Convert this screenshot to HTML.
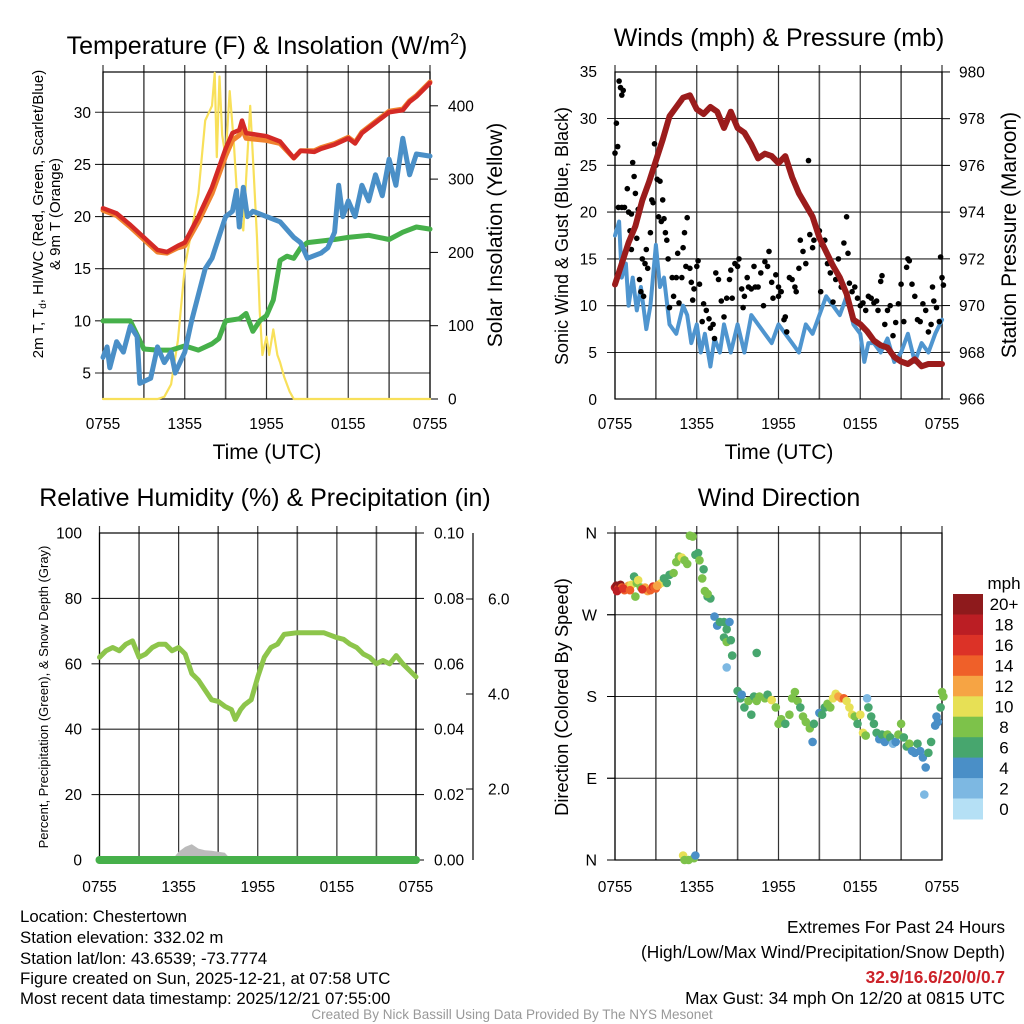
<!DOCTYPE html>
<html><head><meta charset="utf-8">
<style>
html,body{margin:0;padding:0;background:#fff;}
svg{display:block;font-family:"Liberation Sans",Arial,sans-serif;}
</style></head>
<body>
<svg id="fig" width="1024" height="1024" viewBox="0 0 1024 1024" xmlns="http://www.w3.org/2000/svg">
<rect width="1024" height="1024" fill="#fff"/>
<text x="267" y="54" font-size="25" text-anchor="middle">Temperature (F) &amp; Insolation (W/m<tspan font-size="16" dy="-10">2</tspan><tspan dy="10">)</tspan></text>
<text x="779" y="46" font-size="25" text-anchor="middle">Winds (mph) &amp; Pressure (mb)</text>
<text x="265" y="506" font-size="25" text-anchor="middle">Relative Humidity (%) &amp; Precipitation (in)</text>
<text x="779" y="506" font-size="25" text-anchor="middle">Wind Direction</text>
<text x="267" y="459" font-size="21" text-anchor="middle">Time (UTC)</text>
<text x="779" y="459" font-size="21" text-anchor="middle">Time (UTC)</text>
<text transform="translate(43,214) rotate(-90)" font-size="15" text-anchor="middle">2m T, T<tspan font-size="10" dy="3">d</tspan><tspan dy="-3">, HI/WC (Red, Green, Scarlet/Blue)</tspan></text>
<text transform="translate(60,214) rotate(-90)" font-size="15" text-anchor="middle">&amp; 9m T (Orange)</text>
<text transform="translate(502,235) rotate(-90)" font-size="21" text-anchor="middle">Solar Insolation (Yellow)</text>
<text transform="translate(568,236) rotate(-90)" font-size="18" text-anchor="middle">Sonic Wind &amp; Gust (Blue, Black)</text>
<text transform="translate(1016,235) rotate(-90)" font-size="21" text-anchor="middle">Station Pressure (Maroon)</text>
<text transform="translate(48,697) rotate(-90)" font-size="13" text-anchor="middle">Percent, Precipitation (Green), &amp; Snow Depth (Gray)</text>
<text transform="translate(568,697) rotate(-90)" font-size="18.3" text-anchor="middle">Direction (Colored By Speed)</text>
<g font-size="16.8">
<text x="20" y="922">Location: Chestertown</text>
<text x="20" y="943">Station elevation: 332.02 m</text>
<text x="20" y="964">Station lat/lon: 43.6539; -73.7774</text>
<text x="20" y="984">Figure created on Sun, 2025-12-21, at 07:58 UTC</text>
<text x="20" y="1004">Most recent data timestamp: 2025/12/21 07:55:00</text>
</g>
<g font-size="17.3" text-anchor="end">
<text x="1005" y="933">Extremes For Past 24 Hours</text>
<text x="1005" y="958">(High/Low/Max Wind/Precipitation/Snow Depth)</text>
<text x="1005" y="983" fill="#cc2229" font-weight="bold">32.9/16.6/20/0/0.7</text>
<text x="1005" y="1004">Max Gust: 34 mph On 12/20 at 0815 UTC</text>
</g>
<text x="512" y="1019" font-size="13.5" fill="#999" text-anchor="middle">Created By Nick Bassill Using Data Provided By The NYS Mesonet</text>
</svg>
<script>
// ---- data ----
const xTickLabels = ["0755","1355","1955","0155","0755"];
const tempTicks = [5,10,15,20,25,30];
const solarTicks = [0,100,200,300,400];
const windTicks = [0,5,10,15,20,25,30,35];
const presTicks = [966,968,970,972,974,976,978,980];
const rhTicks = [0,20,40,60,80,100];
const precipTicks = ["0.00","0.02","0.04","0.06","0.08","0.10"];
const snowTicks = ["2.0","4.0","6.0"];
const dirTicks = ["N","E","S","W","N"];
const speedBins = ["0","2","4","6","8","10","12","14","16","18","20+"];
const speedColors = ["#b5e0f5","#7db8e2","#4a8fc7","#47a66e","#7dc24a","#e7e055","#f6a444","#ef6029","#dc3227","#bb1e24","#8e1a1c"];

const tempHours = [0,1,2,3,4,4.7,5.5,6,7,8,9,9.5,10,10.2,10.5,12,13,14,14.5,15.5,16,17,18,18.5,19,20,21,22,22.5,23,24];
const tempRed   = [20.8,20.3,19.2,18,16.8,16.6,17.2,17.5,20,22.8,26.5,28,28.3,29.2,28,27.7,27.2,25.6,26.3,26.2,26.5,26.9,27.5,27,28,29,30,30.2,31,31.5,32.8];
const temp9m    = [20.6,20.1,19.0,17.8,16.6,16.5,17.0,17.2,19.5,22.2,25.8,27.3,27.8,28.5,27.5,27.3,27.0,25.6,26.3,26.3,26.6,27.0,27.6,27.1,28.1,29.1,30.1,30.3,31.1,31.6,32.9];
const dewHours = [0,1,2,3,4,5,6,7,8,8.5,9,10,10.5,11,11.5,12,12.5,13,13.5,14,14.5,15,17,18,19.5,21,22,23,24];
const dewGreen = [10,10,10,7.3,7.2,7.2,7.6,7.2,7.8,8.3,10,10.2,10.7,9,10,10.5,12,15.8,16.2,16,17,17.5,17.8,18,18.2,17.8,18.5,19,18.8];
const wcHours = [0,0.3,0.5,1,1.5,2,2.5,2.7,3.5,4,4.5,5,5.3,6,6.5,7,7.5,8,8.5,9,9.5,9.8,10,10.3,10.6,11,12,13,14,14.5,15,16,16.5,17,17.3,17.6,18,18.5,19,19.5,20,20.5,21,21.5,22,22.5,23,24];
const wcBlue  = [6.5,7.5,5.5,8,7,9.5,8.5,4,4.5,7.5,6,7,5,7,10,12.5,15,16,18,20,20.5,22.5,19,22.8,20,20.5,20,19.5,18,17.5,16,16.5,17,18.5,23,20,21.5,20,23,21.5,24,22,25.5,23,27.5,24,26,25.8];
const solarHours = [0,4,4.5,5,5.5,6,6.5,7,7.5,8,8.2,8.35,8.55,8.75,9,9.3,9.6,9.8,10,10.3,10.5,10.8,11,11.3,11.5,11.7,12,12.2,12.5,12.8,13,13.3,13.7,14,24];
const solarVals  = [0,0,3,20,80,180,230,280,380,400,445,330,440,360,330,420,350,290,250,230,300,400,330,220,120,60,85,60,95,60,50,30,10,0,0];

const windHours = [0,0.3,0.5,0.8,1,1.3,1.6,1.9,2.3,2.6,3,3.3,3.6,4,4.5,5,5.3,5.6,6,6.3,6.6,7,7.3,7.7,8,8.5,9,9.5,10,10.5,11,11.5,12,12.5,13,13.5,14,14.5,15,15.5,16,16.5,17,17.5,18,18.3,18.6,19,19.5,20,20.5,21,21.5,22,22.5,23,23.5,24];
const windSpeed = [17.5,19,13,14.5,10,13,9.5,12,7.5,10,16.5,12,13,8,7,10,9,6,8,5,7,3.5,6.5,5,8,5,8,5,9,8,7,6,8,7,6,5,8,7,9,11,10,9,11,8,7,4,6,6,5,6.5,4,5,7,4,6,5,7,8.5];
const presHours = [0,0.5,1,1.5,2,2.5,3,3.5,4,4.5,5,5.5,6,6.5,7,7.5,8,8.5,9,9.5,10,10.5,11,11.5,12,12.5,13,13.5,14,14.5,15,15.5,16,16.5,17,17.5,18,18.5,19,19.5,20,20.5,21,21.5,22,22.5,23,24];
const presVals  = [970.9,971.8,972.7,973.4,974.5,975.3,976.2,977.1,978.1,978.5,978.9,979.0,978.4,978.2,978.5,978.3,977.6,978.3,977.6,977.4,976.9,976.3,976.5,976.4,976.1,976.4,975.5,974.8,974.3,973.8,972.9,972.3,971.7,971.2,970.5,969.4,969.2,968.9,968.5,968.3,968.2,967.8,967.6,967.5,967.7,967.4,967.5,967.5];
const gustHours = [0,0.1,0.2,0.3,0.4,0.5,0.6,0.25,0.5,0.7,0.9,1.0,1.1,1.2,1.2,1.3,1.4,1.5,1.6,1.7,1.8,1.9,2.0,2.1,2.2,2.3,2.4,2.6,2.7,2.8,2.9,3.0,3.1,3.2,3.3,3.4,3.5,3.6,3.7,3.8,3.9,4.0,4.2,4.3,4.5,4.6,4.7,4.9,5.0,5.1,5.3,5.2,5.5,5.6,5.7,5.8,6.0,6.1,6.2,6.4,6.5,6.7,6.9,7.0,7.2,7.4,7.6,7.8,8.0,8.2,8.4,8.5,8.6,8.8,9.0,9.1,9.3,9.5,9.7,9.8,10,10.2,10.3,10.5,10.7,10.9,11.0,11.2,11.3,11.5,11.6,11.8,12,12.2,12.4,12.5,12.6,12.8,13.0,13.2,13.3,13.5,13.6,13.8,14,14.2,14.3,14.4,14.5,14.6,14.8,15,15.2,15.4,15.6,15.8,16,16.2,16.4,16.6,16.8,17.0,17.1,17.2,17.4,17.6,17.8,18,18.2,18.4,18.6,18.8,19,19.2,19.3,19.5,19.6,19.8,20.0,20.2,20.4,20.6,20.8,21,21.2,21.4,21.5,21.6,21.8,22,22.2,22.4,22.6,22.8,23,23.2,23.4,23.6,23.8,24,23.9,24.1,23.3,7.3,9.4,12.0,15.1,16.0];
const gustVals  = [26.3,29.5,27,34,33.3,32.5,33,20.5,20.5,20.5,22.5,20,18,16,19.8,25.3,23.8,22,17.2,20.3,12.8,11.5,15,11,14.5,16,14,17.8,21.3,21,27.3,25,23.5,19.5,23.3,19,21.3,19.3,17.8,17,15,9.8,13,11,13,15.6,10.3,13,16.2,17.8,19.4,14.2,14,12.5,10.6,11.8,14.2,14.8,12.3,8.3,10.2,9.5,8.6,7.6,8,13.5,12.8,10.5,8.8,10.8,12.8,13.8,10.8,14.5,14.2,15,11.8,11,13,12,11.8,14.2,12,12,13.5,10,14.7,14.2,15.8,12.5,10.8,13.3,11,11.5,8.5,8.8,7.2,13,12.8,12,11.5,14,17,15.8,14.5,25.5,17.6,19.8,16.2,17,18.3,18,16.5,17,14.5,13.5,14.3,12.8,15,12,16.7,19.5,15.6,12.4,11.5,12,10.8,10,10.3,9.5,11,10.8,10.3,10.5,9.5,12.6,13.2,8,9.5,10,6.8,8.2,10.2,12.3,8.3,14.1,15,14.8,12.3,11,8.5,8.3,10.2,9.5,7.2,8,10.5,9.8,8.3,13,15.2,12.2,12,6.5,9.8,12,11.5,10.4,12.9];

const rhHours = [0,0.5,1,1.5,2,2.5,3,3.5,4,4.5,5,5.5,6,6.5,7,7.5,8,8.5,9,9.5,10,10.3,10.7,11,11.5,12,12.5,13,13.5,14,15,16,17,18,18.5,19,19.5,20,20.5,21,21.5,22,22.5,23,23.5,24];
const rhVals  = [62,64,65,64,66,67,62,63,65,66,66,64,65,63,57,55,52,49,48.5,47,46,43,46,47.5,49,56,62,65,66,69,69.5,69.5,69.5,68,67.5,66,65,63,62,60,61,60,62.5,60,58,56];
const snowHours = [5.5,6,6.5,7,7.5,8,8.5,9,9.5,10];
const snowVals  = [0,2.5,4,4.8,3.5,3,2.8,2.5,2.2,0];
const precipHours = [0,24];
const precipVals = [0,0];

const dirHours = [0,0.1,0.2,0.3,0.4,0.5,0.7,0.9,1.0,1.2,1.4,1.5,1.6,1.7,1.9,2.2,2.4,2.6,2.8,3.0,3.2,3.4,3.6,3.8,4.0,4.3,4.5,4.7,4.9,5.1,5.3,5.5,5.7,5.9,6.1,6.2,6.5,6.4,6.6,6.8,7.0,6.8,7.3,7.5,7.7,8.0,8.2,8.4,8.0,8.2,8.5,8.2,8.6,10.4,9.0,9.2,9.3,9.5,9.8,10,10.2,10.4,10.6,11,11.2,11.5,11.8,12,12.2,12.5,12.8,13,13.2,13.4,13.6,13.8,14,14.3,14.6,14.5,15,15.2,15.4,15.6,15.8,16,16.2,16.4,16.6,16.8,17.0,17.2,17.4,17.6,17.8,18.0,18.2,18.4,18.5,18.6,18.8,19.0,19.2,19.4,19.6,19.8,20,20.2,20.4,20.6,20.8,21.0,21.2,21.4,21.6,21.8,22,22.2,22.4,22.6,22.8,23,23.2,23.5,23.7,23.9,24,24.1,22.7,23.6,5.0,5.1,5.4,5.8,5.9,0.15,0.6,1.1,2.0,2.9,3.1];
const dirDeg   = [300,302,298,300,303,300,297,300,302,303,312,290,305,308,300,300,296,297,301,299,303,305,310,305,314,316,328,334,333,330,326,357,356,336,338,330,320,310,296,290,288,293,268,258,262,262,254,262,245,240,242,212,225,228,186,178,182,168,175,160,180,175,180,178,182,176,168,150,155,150,160,178,185,175,168,158,152,145,150,130,162,160,168,172,168,178,183,180,178,178,175,168,160,158,150,160,140,137,178,168,158,150,140,133,138,130,138,135,128,130,138,150,135,125,128,120,118,128,120,113,102,118,130,148,152,168,185,180,72,158,5,0,0,2,5,296,299,297,298,300,302];
const dirSpeed = [18,20,17,16,20,14,14,14,12,10,6,8,8,10,8,12,13,15,16,14,12,10,6,6,6,8,8,8,10,8,8,8,8,6,6,8,6,8,8,6,6,8,4,4,6,6,6,4,6,8,6,2,6,6,6,6,4,6,8,6,6,8,8,8,6,10,8,8,8,6,8,8,8,8,6,8,8,8,6,4,4,6,6,8,8,10,10,12,12,14,10,10,10,8,6,10,10,8,2,6,6,6,6,4,6,4,8,6,2,4,8,8,6,6,8,4,4,6,4,4,4,6,6,4,4,6,8,8,2,4,10,8,8,8,4,18,16,14,17,15,12];

// ---- helpers ----
const NS = "http://www.w3.org/2000/svg";
const svg = document.getElementById('fig');
function mk(tag, attrs, parent){ const e=document.createElementNS(NS,tag); for(const k in attrs) e.setAttribute(k,attrs[k]); (parent||svg).appendChild(e); return e; }
function linePath(xs, ys, fx, fy){ return xs.map((h,i)=>(i?'L':'M')+fx(h).toFixed(1)+','+fy(ys[i]).toFixed(1)).join(''); }

function panelFrame(x0,x1,y0,y1,hGridYs,name){
  const g = mk('g',{});
  
  
  for(let i=0;i<=8;i++){
    const x = x0+(x1-x0)*i/8;
    const l = mk('line',{x1:x,x2:x,y1:y0-7,y2:y1,stroke:(i%2? '#555':'#333'),'stroke-width':(i%2?1.6:1.2)},g);
    
    
  }
  hGridYs.forEach(y=>{
    const l = mk('line',{x1:x0-8,x2:x1,y1:y,y2:y,stroke:'#222','stroke-width':1.1},g);
    
    
  });
  const r = mk('rect',{x:x0,y:y0,width:x1-x0,height:y1-y0,fill:'none',stroke:'#000','stroke-width':1.2},g);
  
  
  return g;
}
function xLabels(x0,x1,y,name){
  xTickLabels.forEach((t,i)=>{
    const e = mk('text',{x:x0+(x1-x0)*i/4,y:y,'font-size':15.5,'text-anchor':'middle'});
    e.textContent=t;
    
    
  });
}
function label(x,y,txt,anchor,name,size){
  const e = mk('text',{x:x,y:y,'font-size':size||15.5,'text-anchor':anchor});
  e.textContent = txt;
  
  
  return e;
}
function path(d, stroke, w, name, extra){
  const p = mk('path', Object.assign({d:d,fill:'none',stroke:stroke,'stroke-width':w,'stroke-linejoin':'round','stroke-linecap':'round'}, extra||{}));
  
  
  return p;
}

// ---- panel 1: temperature ----
{
  const x0=103,x1=430,y0=72,y1=399;
  const fx=h=>x0+(x1-x0)*h/24;
  const fy=v=>373-(v-5)*10.43;
  const fs=w=>399-w*0.733;
  panelFrame(x0,x1,y0,y1,tempTicks.map(fy),'temp');
  tempTicks.forEach(v=>label(91,fy(v)+5.5,String(v),'end','temp-y-tick-label'));
  solarTicks.forEach(v=>{ label(448,fs(v)+5.5,String(v),'start','solar-y-tick-label');
    const t=mk('line',{x1:x1,x2:x1+8,y1:fs(v),y2:fs(v),stroke:'#000'});   });
  xLabels(x0,x1,429,'temp');
  path(linePath(solarHours,solarVals,fx,fs),'#f8e05a',2.2,'solar-insolation-line');
  path(linePath(dewHours,dewGreen,fx,fy),'#46b04a',5,'dewpoint-line');
  path(linePath(wcHours,wcBlue,fx,fy),'#4a8fc7',5,'windchill-line');
  path(linePath(tempHours,temp9m,fx,fy),'#f0822e',5,'temp-9m-line');
  path(linePath(tempHours,tempRed,fx,fy),'#d42a26',4.5,'temp-2m-line');
}
// ---- panel 2: wind ----
{
  const x0=615,x1=942,y0=72,y1=399;
  const fx=h=>x0+(x1-x0)*h/24;
  const fy=v=>399.3-v*9.36;
  const fp=p=>399-(p-966)*23.36;
  panelFrame(x0,x1,y0,y1,windTicks.filter(v=>v>0&&v<35).map(fy),'wind');
  windTicks.forEach(v=>label(597,fy(v)+5.5,String(v),'end','wind-y-tick-label'));
  presTicks.forEach(v=>{ label(959,fp(v)+5.5,String(v),'start','pressure-y-tick-label');
    const t=mk('line',{x1:x1,x2:x1+8,y1:fp(v),y2:fp(v),stroke:'#000'});   });
  xLabels(x0,x1,429,'wind');
  path(linePath(windHours,windSpeed,fx,fy),'#4f95cf',4,'wind-speed-line');
  gustHours.forEach((h,i)=>{
    const c=mk('circle',{cx:fx(h).toFixed(1),cy:fy(gustVals[i]).toFixed(1),r:2.8,fill:'#000'});
    
    
  });
  path(linePath(presHours,presVals,fx,fp),'#9b1c1c',6,'pressure-line');
}
// ---- panel 3: RH ----
{
  const x0=99.5,x1=416,y0=533,y1=860;
  const fx=h=>x0+(x1-x0)*h/24;
  const fy=v=>860-v*3.27;
  const fpr=v=>860-v*3270;
  const fsn=v=>860-v*3.27;
  panelFrame(x0,x1,y0,y1,rhTicks.filter(v=>v>0&&v<100).map(fy),'rh');
  rhTicks.forEach(v=>label(82,fy(v)+5.5,String(v),'end','rh-y-tick-label'));
  precipTicks.forEach((t,i)=>{ const y=860-i*65.4; label(434,y+5.5,t,'start','precip-y-tick-label');
    const l=mk('line',{x1:x1,x2:x1+8,y1:y,y2:y,stroke:'#000'});   });
  const ax=mk('line',{x1:473,x2:473,y1:533,y2:860,stroke:'#000','stroke-width':1.2});  
  snowTicks.forEach((t,i)=>{ const y=789-i*95; label(488,y+5.5,t,'start','snow-y-tick-label');
    const l=mk('line',{x1:466,x2:473,y1:y,y2:y,stroke:'#000'});   });
  xLabels(x0,x1,892,'rh');
  const snowD = linePath(snowHours,snowVals,fx,fsn)+'L'+fx(snowHours[snowHours.length-1])+',864L'+fx(snowHours[0])+',864Z';
  const sp=mk('path',{d:snowD,fill:'#bbb'});  
  path(linePath(precipHours,precipVals,fx,fpr),'#46b04a',8,'precipitation-line');
  path(linePath(rhHours,rhVals,fx,fy),'#8dc54b',5,'relative-humidity-line');
}
// ---- panel 4: direction ----
{
  const x0=615,x1=942,y0=533,y1=860;
  const fx=h=>x0+(x1-x0)*h/24;
  const fy=d=>860-d*(327/360);
  panelFrame(x0,x1,y0,y1,[90,180,270].map(fy),'direction');
  dirTicks.forEach((t,i)=>{ const y=fy(i*90); label(597,y+5.5,t,'end','direction-y-tick-label',16);
    const l=mk('line',{x1:x0-8,x2:x0,y1:y,y2:y,stroke:'#000'});   });
  xLabels(x0,x1,892,'direction');
  dirHours.forEach((h,i)=>{
    const bin=Math.min(10,Math.floor(dirSpeed[i]/2));
    const c=mk('circle',{cx:fx(h).toFixed(1),cy:fy(dirDeg[i]).toFixed(1),r:4.3,fill:speedColors[bin]});
    
    
  });
  // colorbar
  const cb=mk('g',{});
  
  
  const h=(819-594)/11;
  speedBins.forEach((b,i)=>{
    const k=10-i;
    const r=mk('rect',{x:953,y:(594+i*h).toFixed(1),width:30,height:(h+0.5).toFixed(1),fill:speedColors[k]},cb);
    
    
    label(1004,594+i*h+h/2+6,speedBins[k],'middle','colorbar-label',17);
  });
  label(1004,589,'mph','middle','colorbar-title',17);
}
</script>
</body></html>
